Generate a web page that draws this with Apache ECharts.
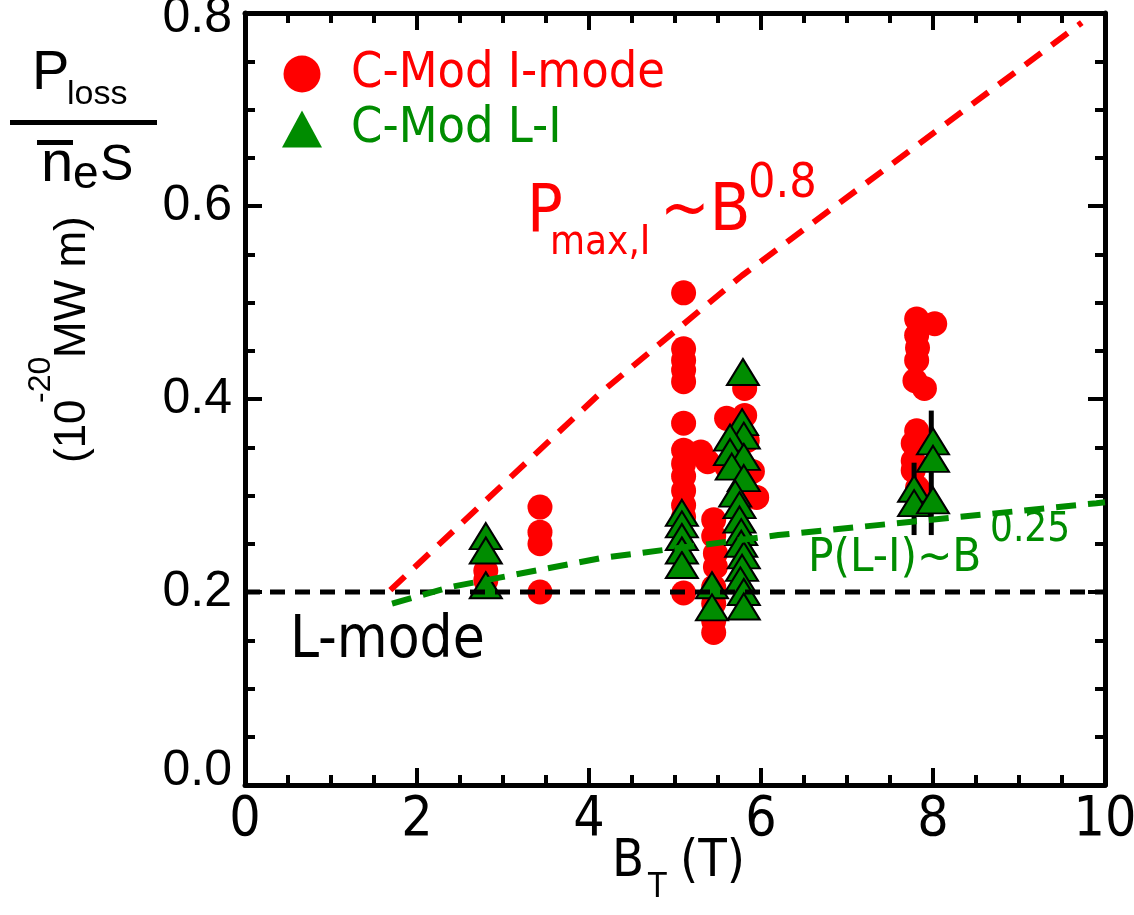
<!DOCTYPE html>
<html>
<head>
<meta charset="utf-8">
<title>C-Mod I-mode power window</title>
<script src="https://cdn.jsdelivr.net/npm/echarts@6/dist/echarts.min.js"></script>
<style>
  html, body { margin: 0; padding: 0; background: #fff; }
  #chart { width: 1134px; height: 915px; }
</style>
</head>
<body>
<div id="chart"></div>
<script>
// data: B_T (T) vs P_loss/(n_e S) (1e-20 MW m)
const iModeB = [2.8, 2.8, 3.43, 3.43, 3.43, 3.43,
  5.1, 5.1, 5.1, 5.1, 5.1, 5.1, 5.1, 5.1, 5.1, 5.1, 5.1, 5.1, 5.1,
  5.3, 5.38, 5.45, 5.45, 5.47, 5.47, 5.45, 5.45, 5.45, 5.45,
  5.6, 5.6, 5.81, 5.81, 5.84, 5.9, 5.95, 5.75,
  7.81, 8.02, 7.81, 7.82, 7.81, 7.79, 7.9, 7.81, 7.77, 7.77, 7.77, 7.82]
const iModeP = [0.222, 0.212, 0.288, 0.262, 0.25, 0.2,
  0.51, 0.452, 0.44, 0.43, 0.418, 0.375, 0.347, 0.333, 0.32, 0.305, 0.29, 0.278, 0.199,
  0.345, 0.335, 0.275, 0.258, 0.24, 0.226, 0.205, 0.188, 0.17, 0.158,
  0.38, 0.33, 0.411, 0.383, 0.357, 0.325, 0.298, 0.3,
  0.483, 0.478, 0.466, 0.453, 0.44, 0.419, 0.411, 0.367, 0.354, 0.336, 0.326, 0.308]

const liB = [2.8, 2.8, 2.8,
  5.08, 5.08, 5.08, 5.08, 5.08,
  5.43, 5.43,
  5.79, 5.78, 5.8, 5.64, 5.64, 5.8, 5.66, 5.8, 5.7, 5.75, 5.75, 5.77, 5.77, 5.8, 5.78, 5.76, 5.8, 5.8,
  7.78, 7.78, 8.0, 8.0, 8.0]
const liP = [0.258, 0.243, 0.207,
  0.282, 0.27, 0.257, 0.243, 0.228,
  0.207, 0.184,
  0.428, 0.376, 0.362, 0.36, 0.345, 0.34, 0.33, 0.318, 0.302, 0.29, 0.275, 0.262, 0.25, 0.238, 0.225, 0.212, 0.2, 0.185,
  0.307, 0.292, 0.356, 0.338, 0.295]

// error bars on the 8 T L-I points
const errB = [7.78, 7.98]
const errLo = [0.259, 0.259]
const errHi = [0.334, 0.388]

// dashed guide lines
const pmaxB = [1.69, 4.13, 5.78, 9.73]
const pmaxP = [0.202, 0.406, 0.528, 0.79]
const pliB = [1.71, 2.38, 4.13, 6.2, 9.9, 10]
const pliP = [0.188, 0.205, 0.235, 0.259, 0.292, 0.293]
const lmodeB = [0, 10]
const lmodeP = [0.2, 0.2]

const xTicks = [0, 10, 2]
const yTicks = [0, 0.8, 0.2]

const RED = '#ff0000'
const GREEN = '#008c00'
const COND = '"DejaVu Sans Condensed", "DejaVu Sans", sans-serif'
const ARIAL = '"Liberation Sans", Arial, sans-serif'

const zip = (a, b) => a.map((v, i) => [v, b[i]])

const chart = echarts.init(document.getElementById('chart'))

const axisLine = { show: true, onZero: false, lineStyle: { color: '#000', width: 5 } }
const axisTick = { inside: true, length: 17, lineStyle: { color: '#000', width: 4 } }
const minorTick = { show: true, splitNumber: 4, length: 10, lineStyle: { color: '#000', width: 4 } }

function txt (text, x, y, size, color, family) {
  return {
    type: 'text',
    x: x,
    y: y,
    style: {
      text: text,
      fill: color,
      font: size + 'px ' + (family || COND),
      textAlign: 'left',
      textVerticalAlign: 'middle'
    }
  }
}

// y tick label: nudge the end labels as in the original
function yLabel (v) {
  const s = v.toFixed(1)
  if (s === '0.0') return '{z|0.0}'
  if (s === '0.8') return '{t|0.8}'
  return s
}

const option = {
  animation: false,
  backgroundColor: '#fff',
  grid: { left: 245, right: 29, top: 13, bottom: 130, outerBoundsMode: 'none', containLabel: false },
  legend: {
    left: 277,
    top: 44,
    orient: 'vertical',
    itemWidth: 40,
    itemHeight: 37,
    itemGap: 5,
    textStyle: { fontSize: 50, fontFamily: COND, lineHeight: 50, padding: [0, 0, 0, 24] },
    data: [
      { name: 'C-Mod I-mode', icon: 'circle', itemStyle: { color: RED, borderWidth: 0 }, textStyle: { color: RED } },
      { name: 'C-Mod L-I', icon: 'triangle', itemStyle: { color: GREEN, borderWidth: 0 }, textStyle: { color: GREEN } }
    ]
  },
  xAxis: [
    {
      type: 'value',
      min: xTicks[0],
      max: xTicks[1],
      interval: xTicks[2],
      axisLine: axisLine,
      axisTick: axisTick,
      minorTick: minorTick,
      splitLine: { show: false },
      axisLabel: { fontSize: 55, fontFamily: COND, color: '#000', margin: 8 }
    },
    {
      type: 'value',
      position: 'top',
      min: xTicks[0],
      max: xTicks[1],
      interval: xTicks[2],
      axisLine: axisLine,
      axisTick: axisTick,
      minorTick: minorTick,
      splitLine: { show: false },
      axisLabel: { show: false }
    }
  ],
  yAxis: [
    {
      type: 'value',
      min: yTicks[0],
      max: yTicks[1],
      interval: yTicks[2],
      axisLine: axisLine,
      axisTick: axisTick,
      minorTick: minorTick,
      splitLine: { show: false },
      axisLabel: {
        fontSize: 50,
        fontFamily: ARIAL,
        color: '#000',
        margin: 13,
        formatter: yLabel,
        rich: {
          z: { fontSize: 50, fontFamily: ARIAL, padding: [0, 0, 28, 0] },
          t: { fontSize: 50, fontFamily: ARIAL, padding: [10, 0, 0, 0] }
        }
      }
    },
    {
      type: 'value',
      position: 'right',
      min: yTicks[0],
      max: yTicks[1],
      interval: yTicks[2],
      axisLine: axisLine,
      axisTick: axisTick,
      minorTick: minorTick,
      splitLine: { show: false },
      axisLabel: { show: false }
    }
  ],
  series: [
    {
      name: 'C-Mod I-mode',
      type: 'scatter',
      z: 2,
      symbol: 'circle',
      symbolSize: 25,
      itemStyle: { color: RED, opacity: 1 },
      data: zip(iModeB, iModeP)
    },
    {
      name: 'errbars',
      type: 'custom',
      z: 3,
      encode: { x: 0, y: [1, 2] },
      renderItem: (params, api) => {
        const p1 = api.coord([api.value(0), api.value(1)])
        const p2 = api.coord([api.value(0), api.value(2)])
        return {
          type: 'line',
          shape: { x1: p1[0], y1: p1[1], x2: p2[0], y2: p2[1] },
          style: { stroke: '#000', lineWidth: 5 }
        }
      },
      data: errB.map((b, i) => [b, errLo[i], errHi[i]])
    },
    {
      name: 'C-Mod L-I',
      type: 'scatter',
      z: 4,
      symbol: 'triangle',
      symbolSize: [32, 26],
      itemStyle: { color: GREEN, borderColor: '#000', borderWidth: 2, opacity: 1 },
      data: zip(liB, liP)
    },
    {
      name: 'L-mode',
      type: 'line',
      z: 5,
      showSymbol: false,
      lineStyle: { color: '#000', width: 5, type: [15, 10] },
      data: zip(lmodeB, lmodeP)
    },
    {
      name: 'Pmax',
      type: 'line',
      z: 5,
      showSymbol: false,
      lineStyle: { color: RED, width: 6, type: [20, 13] },
      data: zip(pmaxB, pmaxP)
    },
    {
      name: 'PLI',
      type: 'line',
      z: 5,
      showSymbol: false,
      lineStyle: { color: GREEN, width: 6, type: [20, 12] },
      data: zip(pliB, pliP)
    }
  ],
  graphic: [
    // y axis title: fraction
    txt('P', 32, 74, 56, '#000', ARIAL),
    txt('loss', 67, 95, 34, '#000', ARIAL),
    { type: 'rect', shape: { x: 10, y: 120, width: 147, height: 5 }, style: { fill: '#000' } },
    { type: 'rect', shape: { x: 37, y: 140, width: 36, height: 5 }, style: { fill: '#000' } },
    txt('n', 41, 165, 58, '#000', ARIAL),
    txt('e', 73, 175, 46, '#000', ARIAL),
    txt('S', 100, 166, 50, '#000', ARIAL),
    // y axis title: units, rotated
    {
      type: 'group',
      x: 73,
      y: 463,
      rotation: Math.PI / 2,
      children: [
        txt('(10', 0, 0, 44, '#000', ARIAL),
        txt('-20', 60, -32, 32, '#000', ARIAL),
        txt('MW m)', 105, 0, 44, '#000', ARIAL)
      ]
    },
    // x axis title
    txt('B', 612, 862, 52, '#000'),
    txt('T', 648, 888, 34, '#000'),
    txt('(T)', 680, 862, 52, '#000'),
    // annotations
    txt('P', 527, 214, 66, RED),
    txt('max,I', 550, 244, 40, RED),
    txt('~B', 660, 213, 66, RED),
    txt('0.8', 748, 185, 48, RED),
    txt('P(L-I)~B', 808, 559, 47, GREEN),
    txt('0.25', 990, 531, 40, GREEN),
    txt('L-mode', 290, 642, 58, '#000')
  ]
}

chart.setOption(option)
</script>
</body>
</html>
